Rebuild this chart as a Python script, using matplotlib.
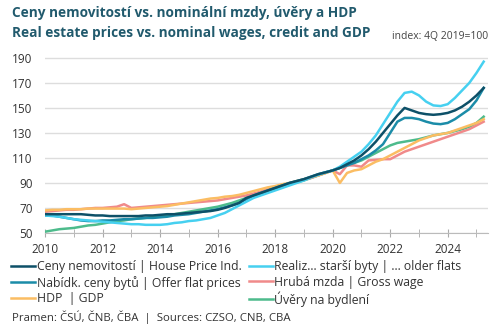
import numpy as np
import matplotlib.pyplot as plt
from matplotlib.ticker import MultipleLocator

plt.rcParams['font.family'] = ['Open Sans', 'DejaVu Sans']

# quarterly, 2010Q1 .. 2025Q2
years = 2010 + np.arange(62) / 4

house = [65, 65, 65, 65, 65, 65, 64.5, 64, 64, 63.5, 63.5, 63.5, 63.5, 63.5, 64, 64,
         64.5, 65, 65, 65.5, 66, 66.5, 67, 67.5, 68.5, 70, 72, 74, 78, 80, 82, 84,
         86, 88, 90, 91.5, 93, 95, 97, 98.5, 100, 102, 105, 108, 112, 117, 123, 130,
         137, 144, 150, 148, 146, 145, 144.5, 145, 146, 148, 151, 155, 160, 166]
older = [64, 63.5, 63, 62, 61, 60.5, 60, 59.5, 59, 58.5, 58, 57.5, 57, 57, 56.5, 56.5,
         56.5, 57, 58, 58.5, 59.5, 60, 61, 62, 64, 66, 69, 72, 75, 78, 80, 82,
         84, 86, 88, 90, 92, 94.5, 96.5, 98.5, 100, 103, 107, 111, 115, 121, 128, 137,
         146, 155, 162, 163, 160, 155, 152, 151.5, 153, 158, 164, 170, 178, 187]
offer = [64, 64, 63, 62, 61, 60, 59.5, 59.5, 60, 60, 60.5, 61, 61, 61.5, 62, 62,
         62.5, 63, 64, 64.5, 65, 66, 67, 68, 69, 70.5, 72, 74, 77, 80, 82, 84,
         86, 88, 90, 91.5, 93, 95, 97, 98.5, 100, 102, 104, 106, 109, 112, 116, 121,
         130, 139, 142, 142, 141, 139, 137.5, 137, 138, 141, 145, 149, 156, 166]
wage = [67, 67.5, 68, 68.5, 68.5, 69, 69.5, 70, 70, 70.5, 71, 73, 70, 70.5, 71, 71.5,
        72, 72.5, 73, 73.5, 74, 74.5, 75, 75.5, 76, 77, 78, 79, 80, 81.5, 83, 85,
        86.5, 88, 89.5, 91, 92.5, 94, 96, 98, 100, 97, 104, 104, 103, 108, 108.5, 109,
        109, 112, 115, 117, 119, 121, 123, 125, 127, 129, 131, 133, 136, 139]
gdp = [68, 68.5, 68.5, 69, 69, 69, 69.5, 69.5, 69.5, 69.5, 69.5, 69.5, 69, 69.5, 70, 70.5,
       71, 71.5, 72.5, 73.5, 74.5, 75.5, 76.5, 77.5, 78, 79, 79.5, 80.5, 82, 83.5, 85, 86.5,
       87.5, 89, 90, 91.5, 93, 94.5, 96, 98, 100, 90, 98, 100, 101, 104, 107, 109,
       112, 115, 118, 121, 124, 126, 128, 129, 130, 132, 134, 136, 138, 141]
credit = [51, 52, 53, 53.5, 54, 55, 56, 56.5, 57.5, 58.5, 59.5, 60, 61, 61.5, 62, 63,
          63.5, 64.5, 65, 66, 67, 68, 69, 70, 71, 72.5, 74, 76, 78, 80, 81.5, 83.5,
          85.5, 87, 89, 90.5, 92, 94, 96, 98, 100, 102, 104, 106, 108, 111, 114, 117,
          120, 122, 123, 124, 125, 126.5, 128, 129, 130, 131.5, 133, 135, 138, 143]

labels = ['Ceny nemovitostí | House Price Ind.', 'Nabídk. ceny bytů | Offer flat prices',
          'HDP  | GDP', 'Realiz... starší byty | ... older flats',
          'Hrubá mzda | Gross wage', 'Úvěry na bydlení']

fig = plt.figure(figsize=(5, 3.24), dpi=100)
ax = fig.add_axes([0.09, 0.281, 0.886, 0.548])

l_credit, = ax.plot(years, credit, color='#4dbb8c', lw=1.8)
l_wage, = ax.plot(years, wage, color='#f08a8a', lw=1.8)
l_gdp, = ax.plot(years, gdp, color='#fbbd63', lw=1.8)
l_offer, = ax.plot(years, offer, color='#1b8ca8', lw=1.8)
l_older, = ax.plot(years, older, color='#46d0f0', lw=1.8)
l_house, = ax.plot(years, house, color='#0d5068', lw=1.8)

ax.set_xlim(2010, 2025.4)
ax.set_ylim(50, 192)
ax.set_yticks(range(50, 191, 20))
ax.xaxis.set_major_locator(MultipleLocator(2))
ax.xaxis.set_minor_locator(MultipleLocator(1))
ax.grid(axis='y', color='#dddddd', lw=1)
ax.set_axisbelow(True)
for s in ['top', 'right', 'left']:
    ax.spines[s].set_visible(False)
ax.spines['bottom'].set_color('#bbbbbb')
ax.tick_params(axis='y', length=0, labelsize=8.5, labelcolor='#333333', pad=9)
ax.tick_params(axis='x', which='both', direction='inout', length=6, color='#aaaaaa',
               labelsize=8.5, labelcolor='#333333', pad=4)

fig.text(0.024, 0.96, 'Ceny nemovitostí vs. nominální mzdy, úvěry a HDP', fontsize=9.8,
         fontweight='bold', color='#215a6d', va='center')
fig.text(0.024, 0.898, 'Real estate prices vs. nominal wages, credit and GDP', fontsize=9.8,
         fontweight='bold', color='#215a6d', va='center')
fig.text(0.976, 0.888, 'index: 4Q 2019=100', fontsize=7.5, color='#444444', ha='right',
         va='center')

fig.legend([l_house, l_offer, l_gdp, l_older, l_wage, l_credit], labels, ncol=2,
           loc='upper left', bbox_to_anchor=(0.012, 0.212), frameon=False, fontsize=8.8,
           handlelength=2, handletextpad=0.1, columnspacing=0.6, labelspacing=0.2,
           borderaxespad=0, labelcolor='#333333')

fig.text(0.024, 0.022, 'Pramen: ČSÚ, ČNB, ČBA  |  Sources: CZSO, CNB, CBA', fontsize=8.2,
         color='#333333', va='center')

fig.savefig('out.png', dpi=100)
